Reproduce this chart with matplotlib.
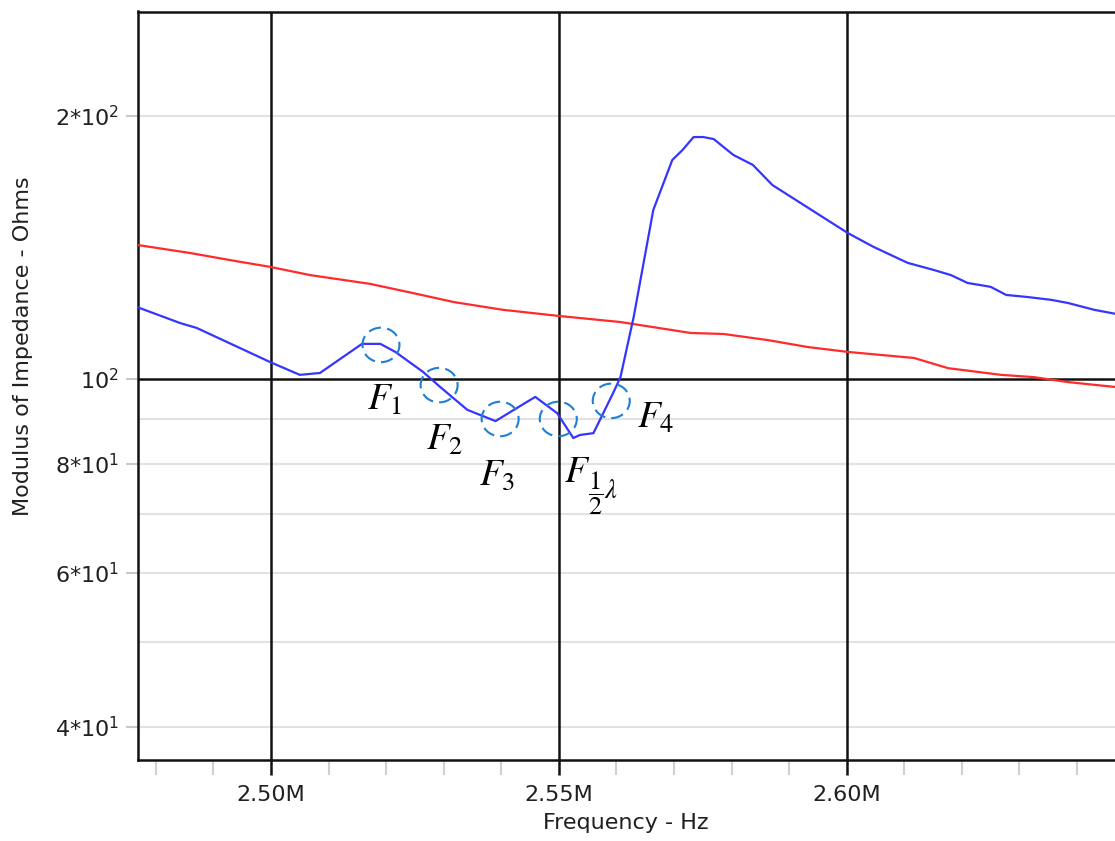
import matplotlib
matplotlib.use("Agg")
import matplotlib.pyplot as plt
from matplotlib.patches import Ellipse
from matplotlib.transforms import ScaledTranslation
from matplotlib.ticker import FixedLocator, MultipleLocator, NullLocator, FuncFormatter

plt.rcParams['mathtext.fontset'] = 'stix'

# blue trace (MHz, Ohms)
blue_f = [2.4767, 2.4842, 2.4871, 2.4998, 2.5050, 2.5085, 2.5158, 2.5190, 2.5216,
          2.5264, 2.5294, 2.5341, 2.5390, 2.5416, 2.5459, 2.5497, 2.5525, 2.5537,
          2.5560, 2.5595, 2.5607, 2.5630, 2.5664, 2.5697, 2.5715, 2.5734, 2.5751,
          2.5769, 2.5803, 2.5837, 2.5871, 2.5920, 2.6002, 2.6047, 2.6106, 2.6151,
          2.6181, 2.6210, 2.6250, 2.6277, 2.6315, 2.6355, 2.6384, 2.6430, 2.6468]
blue_z = [120.9, 115.9, 114.4, 104.6, 101.1, 101.6, 109.7, 109.7, 107.4,
          101.9, 97.9, 92.2, 89.5, 91.7, 95.4, 91.4, 85.6, 86.3,
          86.7, 96.6, 100.5, 117.8, 156.1, 178.1, 182.9, 189.2, 189.2,
          188.2, 180.5, 175.8, 166.7, 159.0, 146.9, 141.6, 135.8, 133.3,
          131.5, 128.8, 127.5, 124.8, 124.1, 123.2, 122.2, 120.0, 118.7]

# red trace
red_f = [2.4767, 2.4859, 2.4929, 2.4998, 2.5068, 2.5172, 2.5247, 2.5317, 2.5403,
         2.5499, 2.5607, 2.5729, 2.5786, 2.5863, 2.5932, 2.6002, 2.6117, 2.6176,
         2.6268, 2.6325, 2.6384, 2.6468]
red_z = [142.4, 139.4, 136.8, 134.4, 131.5, 128.5, 125.4, 122.5, 120.0,
         118.1, 116.2, 112.9, 112.6, 110.8, 108.8, 107.4, 105.7, 102.9,
         101.1, 100.5, 99.2, 97.9]

# marked points
mark_f = [2.5191, 2.5292, 2.5398, 2.5499, 2.5591]
mark_z = [109.4, 98.4, 90.0, 90.0, 94.4]
mark_text = [r"$F_1$", r"$F_2$", r"$F_3$", r"$F$", r"$F_4$"]
text_f = [2.5167, 2.5269, 2.5362, 2.5509, 2.5635]
text_z = [92.2, 82.9, 75.6, 76.2, 87.9]
# subscript of the half-wave label
half_text = r"$\dfrac{1}{2}\lambda$"
half_f = 2.5551
half_z = 72.7

y_ticks = [40, 60, 80, 100, 200]
y_labels = [r"4*$\mathdefault{10^{1}}$", r"6*$\mathdefault{10^{1}}$", r"8*$\mathdefault{10^{1}}$",
            r"$\mathdefault{10^{2}}$", r"2*$\mathdefault{10^{2}}$"]
light_grid = [40, 50, 60, 70, 80, 90, 200]
x_major = [2.50, 2.55, 2.60]

fig = plt.figure(figsize=(11.15, 8.41), dpi=100)
ax = fig.add_axes([137.5 / 1115, 1 - 760 / 841, (1115 - 137.5) / 1115, (760 - 11.5) / 841])
ax.set_yscale('log')
ax.set_xlim(2.47681e6, 2.6466e6)
ax.set_ylim(36.64, 263.4)

for v in light_grid:
    ax.axhline(v, color='#e2e2e2', lw=1.5, zorder=1)
ax.axhline(100, color='#111111', lw=1.8, zorder=2)
for v in x_major:
    ax.axvline(v * 1e6, color='#111111', lw=1.8, zorder=2)

ax.plot([f * 1e6 for f in red_f], red_z, color='#ff2b2b', lw=1.6, zorder=3)
ax.plot([f * 1e6 for f in blue_f], blue_z, color='#3535ff', lw=1.6, zorder=4)

for fx, fz in zip(mark_f, mark_z):
    tr = fig.dpi_scale_trans + ScaledTranslation(fx * 1e6, fz, ax.transData)
    e = Ellipse((0, 0), 0.37, 0.345, transform=tr, fill=False,
                edgecolor='#1f7fd0', lw=1.5, linestyle=(0, (6, 3)), zorder=5)
    ax.add_patch(e)

for t, fx, fz in zip(mark_text, text_f, text_z):
    ax.text(fx * 1e6, fz, t, fontsize=27, ha='left', va='baseline', color='black', zorder=6)
ax.text(half_f * 1e6, half_z, half_text, fontsize=19, ha='left', va='baseline',
        color='black', zorder=6)

ax.yaxis.set_major_locator(FixedLocator(y_ticks))
ax.yaxis.set_minor_locator(NullLocator())
ax.set_yticklabels(y_labels)
ax.tick_params(axis='y', which='major', color='#c8c8c8', length=8.5, width=1.5,
               labelsize=16, pad=5, labelcolor='#202020')
ax.yaxis.get_major_ticks()[3].tick1line.set_color('#111111')

ax.xaxis.set_major_locator(FixedLocator([v * 1e6 for v in x_major]))
ax.xaxis.set_minor_locator(MultipleLocator(0.01e6))
ax.xaxis.set_major_formatter(FuncFormatter(lambda x, p: f"{x / 1e6:.2f}M"))
ax.tick_params(axis='x', which='major', color='#111111', length=11, width=1.8,
               labelsize=16, pad=7, labelcolor='#202020')
ax.tick_params(axis='x', which='minor', color='#d0d0d0', length=11, width=1.5)

for s in ['left', 'bottom', 'top']:
    ax.spines[s].set_linewidth(1.8)
    ax.spines[s].set_color('#111111')
ax.spines['right'].set_visible(False)

ax.set_xlabel("Frequency - Hz", fontsize=16, color='#202020', labelpad=6)
ax.set_ylabel("Modulus of Impedance - Ohms", fontsize=16, color='#202020')
ax.yaxis.set_label_coords(-0.107, 0.553)

fig.savefig("out.png", dpi=100)
